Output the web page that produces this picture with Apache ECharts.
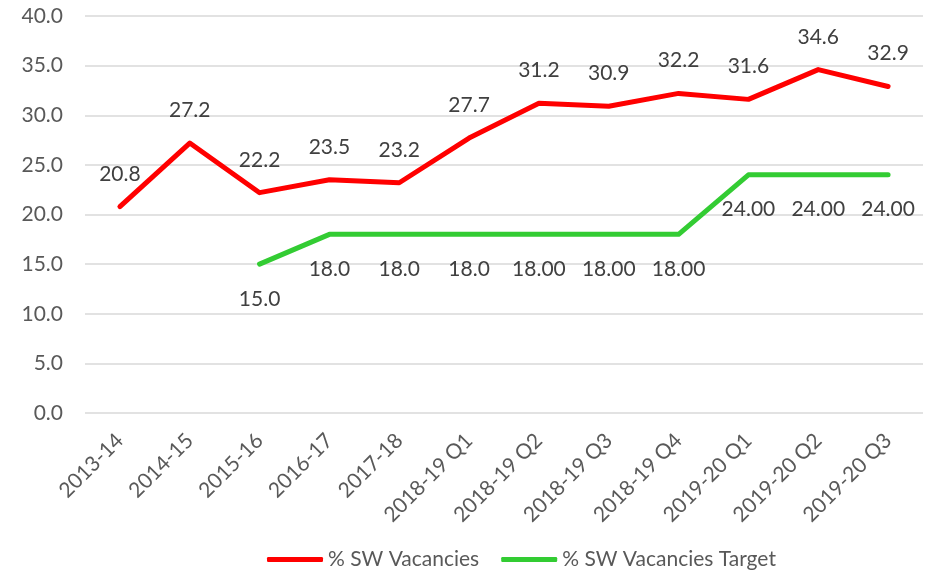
<!DOCTYPE html>
<html>
<head>
<meta charset="utf-8">
<script src="https://cdn.jsdelivr.net/npm/echarts@6/dist/echarts.min.js"></script>
<style>
  html, body { margin: 0; padding: 0; background: #fff; }
  #main { width: 939px; height: 577px; }
</style>
</head>
<body>
<div id="main"></div>
<script>
const categories = ["2013-14", "2014-15", "2015-16", "2016-17", "2017-18", "2018-19 Q1",
  "2018-19 Q2", "2018-19 Q3", "2018-19 Q4", "2019-20 Q1", "2019-20 Q2", "2019-20 Q3"];
const vacancies = [20.8, 27.2, 22.2, 23.5, 23.2, 27.7, 31.2, 30.9, 32.2, 31.6, 34.6, 32.9];
const target = [null, null, 15, 18, 18, 18, 18, 18, 18, 24, 24, 24];
const targetLabels = ["", "", "15.0", "18.0", "18.0", "18.0", "18.00", "18.00", "18.00", "24.00", "24.00", "24.00"];
const yTicks = [0, 5, 10, 15, 20, 25, 30, 35, 40];

const font = "Lato, 'Open Sans', sans-serif";
const chart = echarts.init(document.getElementById("main"));
const option = {
  animation: false,
  textStyle: { fontFamily: font },
  grid: { left: 85, right: 16, top: 16, bottom: 164 },
  legend: {
    bottom: 2,
    left: 262,
    itemWidth: 56,
    itemHeight: 5,
    itemGap: 22,
    icon: "roundRect",
    textStyle: { fontSize: 21, color: "#595959", fontFamily: font },
    data: ["% SW Vacancies", "% SW Vacancies Target"]
  },
  xAxis: {
    type: "category",
    data: categories,
    boundaryGap: true,
    axisLine: { show: false },
    axisTick: { show: false },
    axisLabel: { rotate: 45, fontSize: 21, color: "#595959", margin: 24, interval: 0, fontFamily: font }
  },
  yAxis: {
    type: "value",
    min: yTicks[0],
    max: yTicks[yTicks.length - 1],
    interval: 5,
    axisLine: { show: false },
    axisTick: { show: false },
    splitLine: { lineStyle: { color: "#d9d9d9", width: 1.5 } },
    axisLabel: { fontSize: 21, color: "#595959", margin: 22, fontFamily: font, formatter: v => v.toFixed(1) }
  },
  series: [
    {
      name: "% SW Vacancies",
      type: "line",
      data: vacancies,
      symbol: "circle",
      symbolSize: 0.5,
      itemStyle: { color: "#ff0000" },
      lineStyle: { color: "#ff0000", width: 5, cap: "round", join: "round" },
      label: {
        show: true, position: "top", distance: 22,
        fontSize: 21, color: "#404040", fontFamily: font,
        formatter: p => p.value.toFixed(1)
      }
    },
    {
      name: "% SW Vacancies Target",
      type: "line",
      data: target,
      symbol: "circle",
      symbolSize: 0.5,
      itemStyle: { color: "#33cc33" },
      lineStyle: { color: "#33cc33", width: 5, cap: "round", join: "round" },
      label: {
        show: true, position: "bottom", distance: 24,
        fontSize: 21, color: "#404040", fontFamily: font,
        formatter: p => targetLabels[p.dataIndex]
      }
    }
  ]
};
chart.setOption(option);
</script>
</body>
</html>
